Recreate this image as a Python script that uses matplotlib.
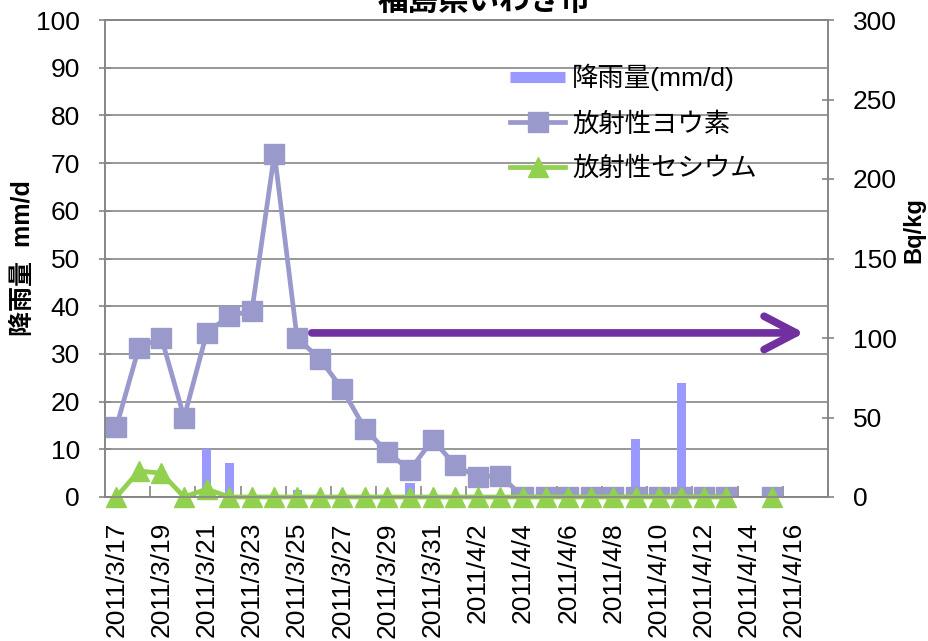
import numpy as np
import matplotlib
matplotlib.use('Agg')
import matplotlib.pyplot as plt
from matplotlib.lines import Line2D

plt.rcParams['font.family'] = ['Liberation Sans', 'Noto Sans CJK JP', 'DejaVu Sans']
plt.rcParams['font.size'] = 19

# 2011/3/17 .. 2011/4/17 (one slot per day)
dates = ['2011/3/%d' % d for d in range(17, 32)] + ['2011/4/%d' % d for d in range(1, 18)]

# rainfall mm/d (left axis)
rain = [0, 0, 0, 0, 10.0, 7.1, 0, 0, 1.5, 0, 0, 0, 0, 2.9, 0, 0,
        0, 0, 0, 0, 0, 0, 0, 12.1, 0, 23.8, 0, 0, 0, 0, 0, 0]

# radioactive iodine Bq/kg (right axis)
iodine = [44, 94, 100, 50, 103, 114, 117, 216, 100, 87, 68, 43, 28, 17, 36, 20,
          12.5, 13.5, 0, 0, 0, 0, 0, 0, 0, 0, 0, 0, np.nan, 0, np.nan, np.nan]

# radioactive cesium Bq/kg (right axis)
cesium = [0, 16.3, 15, 0, 5, 0, 0, 0, 0, 0, 0, 0, 0, 0, 0, 0,
          0, 0, 0, 0, 0, 0, 0, 0, 0, 0, 0, 0, np.nan, 0, np.nan, np.nan]

rain_color = '#9999FF'
iodine_color = '#9999CC'
cesium_color = '#92D050'
arrow_color = '#7030A0'
grid_color = '#868686'

x = np.arange(len(dates))

fig = plt.figure(figsize=(9.29, 6.41), dpi=100)
ax = fig.add_axes([105 / 929, 1 - 497 / 641, (828 - 105) / 929, (497 - 20) / 641])
ax2 = ax.twinx()

ax.bar(x, rain, width=0.4, color=rain_color, zorder=2)
ax.set_ylim(0, 100)
ax.set_yticks(np.arange(0, 101, 10))
ax.set_xlim(-0.5, len(dates) - 0.5)
ax.grid(axis='y', color=grid_color, linewidth=1.2, zorder=0)
ax.set_axisbelow(True)

ax2.plot(x, iodine, color=iodine_color, linewidth=3.4, marker='s', markersize=14)
ax2.plot(x, cesium, color=cesium_color, linewidth=3.4, marker='^', markersize=15,
         clip_on=False)
ax2.set_ylim(0, 300)
ax2.set_yticks(np.arange(0, 301, 50))

for s in ['left', 'right', 'top', 'bottom']:
    ax.spines[s].set_color(grid_color)
    ax2.spines[s].set_color(grid_color)
    ax.spines[s].set_linewidth(1.2)
    ax2.spines[s].set_linewidth(1.2)

# x labels every two days, tick marks at category boundaries
ax.set_xticks(x[::2])
ax.set_xticklabels(dates[::2][:16], rotation=90)
ax.tick_params(axis='x', length=0, pad=18)
ax.set_xticks(np.arange(1.5, len(dates), 2), minor=True)
ax.tick_params(axis='x', which='minor', direction='in', length=8, color=grid_color, width=1.2)

ax.tick_params(axis='y', direction='inout', length=8, color=grid_color, width=1.2, pad=14)
ax2.tick_params(axis='y', direction='inout', length=8, color=grid_color, width=1.2, pad=14)

ax.set_ylabel('降雨量  mm/d', fontweight='bold', fontsize=18)
ax2.set_ylabel('Bq/kg', fontweight='bold', fontsize=17)
ax.yaxis.set_label_coords(-0.097, 0.5)
ax2.yaxis.set_label_coords(1.103, 0.56)

ax.annotate('', xy=(30.45, 34.4), xytext=(8.65, 34.4),
            arrowprops=dict(arrowstyle='->,head_length=2.3,head_width=1.2',
                            mutation_scale=10, lw=5.5, color=arrow_color,
                            shrinkA=0, shrinkB=0, capstyle='round',
                            joinstyle='round'), zorder=5)

fig.text(484 / 929, 1 - 10 / 641, '福島県いわき市', ha='center', va='baseline',
         fontweight='bold', fontsize=22)

handles = [
    Line2D([], [], color=rain_color, linewidth=8, solid_capstyle='butt'),
    Line2D([], [], color=iodine_color, linewidth=3.4, marker='s', markersize=14),
    Line2D([], [], color=cesium_color, linewidth=3.4, marker='^', markersize=15),
]
labels = ['降雨量(mm/d)', '放射性ヨウ素', '放射性セシウム']
ax2.legend(handles, labels, loc='upper left', bbox_to_anchor=(510 / 929, 1 - 64 / 641),
           bbox_transform=fig.transFigure, frameon=False, borderpad=0, borderaxespad=0,
           handlelength=2.1, handletextpad=0.25, labelspacing=0.78)

fig.savefig('out.png', dpi=100)
